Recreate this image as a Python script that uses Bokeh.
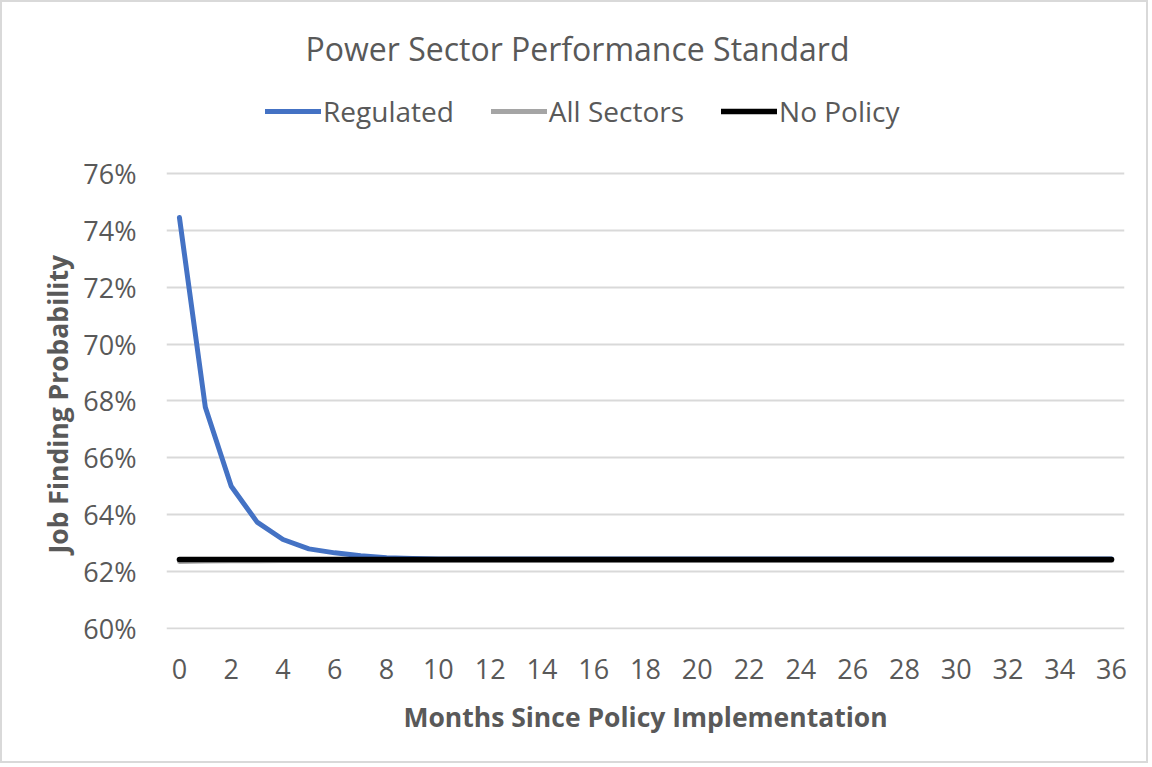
from bokeh.plotting import figure
from bokeh.models import Legend, LegendItem, FixedTicker, PrintfTickFormatter, Range1d, Title
from bokeh.embed import file_html
from bokeh.resources import INLINE

months = list(range(0, 37))
regulated = [74.45, 67.78, 65.0, 63.74, 63.13, 62.80, 62.66, 62.56, 62.49, 62.46] + [62.44] * 27
all_sectors = [62.36, 62.37, 62.38, 62.38, 62.39] + [62.39] * 32
no_policy = [62.43] * 37

x_ticks = list(range(0, 37, 2))
y_ticks = list(range(60, 77, 2))

FONT = "Open Sans"
GREY = "#595959"

# frame extends above the top gridline so the legend can sit inside it
p = figure(width=1148, height=763, output_backend="svg", toolbar_location=None,
           x_range=Range1d(-0.5, 36.5), y_range=Range1d(59.965, 79.27),
           min_border_left=164, min_border_right=26, min_border_bottom=136, min_border_top=78)

p.title.text = "Power Sector Performance Standard"
p.title.align = "left"
p.title.offset = 139
p.title.text_font = FONT
p.title.text_font_size = "32px"
p.title.text_font_style = "normal"
p.title.text_color = GREY
p.title.standoff = 21

r1 = p.line(months, regulated, line_color="#4472C4", line_width=5, line_cap="round", line_join="round")
r2 = p.line(months, all_sectors, line_color="#A5A5A5", line_width=5, line_cap="round", line_join="round")
r3 = p.line(months, no_policy, line_color="#000000", line_width=5.5, line_cap="round", line_join="round")

legend = Legend(items=[LegendItem(label="Regulated", renderers=[r1]),
                       LegendItem(label="All Sectors", renderers=[r2]),
                       LegendItem(label="No Policy", renderers=[r3])],
                orientation="horizontal", location=(99, 499),
                label_text_font=FONT, label_text_font_size="28px", label_text_color=GREY,
                glyph_width=56, glyph_height=20, spacing=37, label_standoff=2,
                border_line_color=None, background_fill_alpha=0, padding=0, margin=0)
p.add_layout(legend, "center")

for ax in (p.xaxis[0], p.yaxis[0]):
    ax.axis_line_color = None
    ax.major_tick_line_color = None
    ax.minor_tick_line_color = None
    ax.major_label_text_font = FONT
    ax.major_label_text_font_size = "27px"
    ax.major_label_text_color = GREY
    ax.axis_label_text_font = FONT
    ax.axis_label_text_font_size = "26.5px"
    ax.axis_label_text_font_style = "bold"
    ax.axis_label_text_color = GREY

p.xaxis.ticker = FixedTicker(ticks=x_ticks)
p.yaxis.ticker = FixedTicker(ticks=y_ticks)
p.yaxis.formatter = PrintfTickFormatter(format="%d%%")
p.xaxis.axis_label = "Months Since Policy Implementation"
p.xaxis.major_label_standoff = 23
p.yaxis.major_label_standoff = 24
p.xaxis.axis_label_standoff = 17

ytitle = Title(text="Job Finding Probability", align="left", offset=76, standoff=9,
               text_font=FONT, text_font_size="26.5px", text_font_style="bold", text_color=GREY)
p.add_layout(ytitle, "left")

p.xgrid.grid_line_color = None
p.ygrid.grid_line_color = "#D9D9D9"
p.ygrid.grid_line_width = 2
p.outline_line_color = None
p.styles = {"border": "2px solid #D9D9D9"}

open("out.html", "w").write(file_html(p, INLINE))
